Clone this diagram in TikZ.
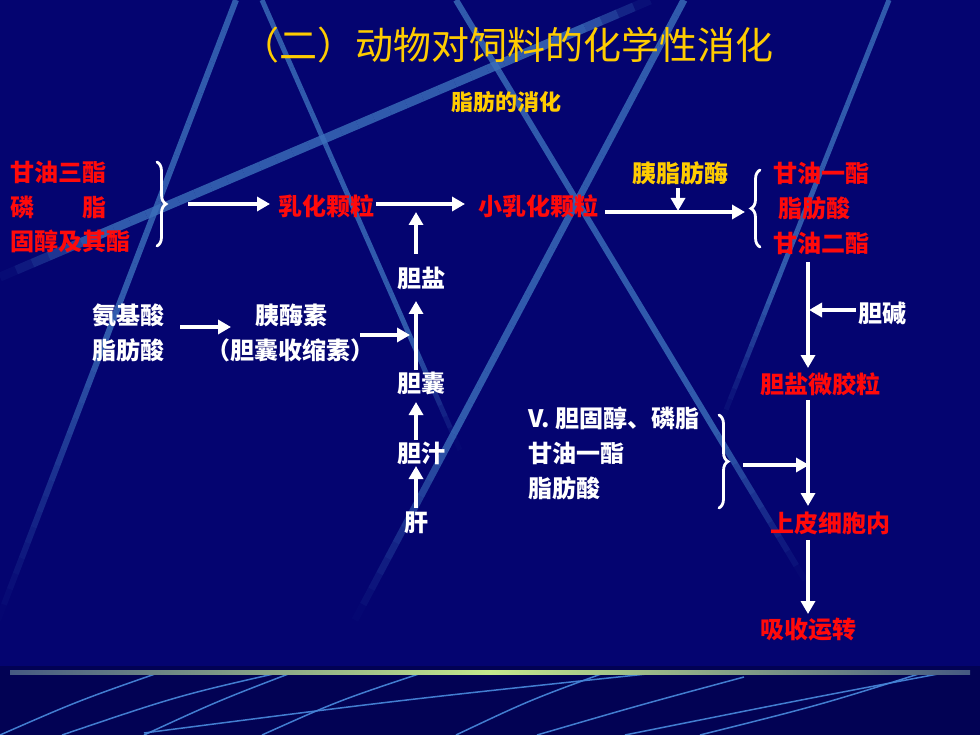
\documentclass[tikz,border=0pt]{standalone}
\usepackage{fontspec}
\setmainfont{Noto Sans CJK SC}
\usetikzlibrary{arrows.meta,decorations.pathreplacing,calc}
\definecolor{bgnavy}{RGB}{4,4,112}
\definecolor{bgdark}{RGB}{2,2,84}
\definecolor{streak}{RGB}{60,112,188}
\definecolor{lowstreak}{RGB}{70,132,215}
\definecolor{txtred}{RGB}{255,10,10}
\definecolor{txtyel}{RGB}{255,204,0}
\definecolor{glowgreen}{RGB}{196,232,140}
\definecolor{glowend}{RGB}{70,90,130}
\tikzset{
  lab/.style={inner sep=0pt, anchor=west, font=\bfseries\fontsize{24}{28}\selectfont},
  rlab/.style={lab, text=txtred},
  wlab/.style={lab, text=white},
  ylab/.style={lab, text=txtyel},
  arr/.style={draw=white, line width=3.5pt, -{Triangle[length=13pt,width=14pt]}},
  bracebig/.style={draw=white, line width=2.8pt, line cap=round, decorate, decoration={brace, amplitude=9pt, aspect=0.5}},
  lowline/.style={draw=lowstreak, opacity=0.95, line width=1.5pt},
}
% #1 start, #2 end, #3 width, #4 fade-in end fraction, #5 fade-out start fraction
\newcommand\bgstreak[5]{%
  \foreach \i in {0,...,39}{%
    \pgfmathsetmacro\ta{\i/40}%
    \pgfmathsetmacro\tb{(\i+1)/40}%
    \pgfmathsetmacro\tm{(\i+0.5)/40}%
    \pgfmathsetmacro\op{0.8*min(1,\tm/#4)*min(1,(1-\tm)/(1-#5))}%
    \draw[draw=streak, line width=#3, opacity=\op] ($(#1)!\ta!(#2)$) -- ($(#1)!\tb!(#2)$);
  }%
}
\begin{document}
\begin{tikzpicture}[x=1pt,y=-1pt]
\useasboundingbox (0,0) rectangle (980,735);
% background
\fill[bgnavy] (0,0) rectangle (980,666);
\fill[bgdark] (0,666) rectangle (980,735);
\begin{scope}
\clip (0,0) rectangle (980,666);
\bgstreak{236,0}{-2,620}{6pt}{0.01}{0.55}
\bgstreak{0,277}{650,0}{9pt}{0.15}{0.9}
\bgstreak{262,0}{460,450}{5pt}{0.01}{0.75}
\bgstreak{456,0}{805,580}{6pt}{0.01}{0.75}
\bgstreak{684,0}{355,620}{7pt}{0.01}{0.7}
\bgstreak{889,0}{722,420}{5pt}{0.01}{0.7}
\end{scope}
% bottom glow line
\shade[left color=glowend, right color=glowend, middle color=glowgreen] (10,670) rectangle (970,674);
% bottom curves
\begin{scope}
\clip (0,675) rectangle (980,735);
\draw[lowline] (0,735) .. controls (80,700) .. (181,665);
\draw[lowline] (62,735) .. controls (180,695) .. (300,668);
\draw[lowline] (144,735) .. controls (220,700) .. (312,665);
\draw[lowline] (144,733) .. controls (400,700) .. (675,671);
\draw[lowline] (262,735) .. controls (340,700) .. (437,668);
\draw[lowline] (456,735) .. controls (530,700) .. (612,670);
\draw[lowline] (537,735) .. controls (640,705) .. (744,677);
\draw[lowline] (625,735) .. controls (800,700) .. (975,667);
\draw[lowline] (700,735) .. controls (820,705) .. (925,672);
\end{scope}
% titles
\node[inner sep=0pt, text=txtyel, font=\fontsize{38}{44}\selectfont] (title) at (507,45) {（二）动物对饲料的化学性消化};
\node[inner sep=0pt, text=txtyel, font=\bfseries\fontsize{22}{26}\selectfont] (sub) at (506,102) {脂肪的消化};
% left group
\node[rlab] (tg) at (10,172) {甘油三酯};
\node[rlab] (pl) at (10,207) {磷\hspace{2em}脂};
\node[rlab] (gc) at (10,241) {固醇及其酯};
\draw[bracebig] (157,162) -- (157,246);
\coordinate (a1s) at (188,204);
\node[rlab] (emul) at (278,206) {乳化颗粒};
\draw[arr] (a1s) -- (emul.west |- a1s) [shorten >=8pt];
\node[rlab] (semul) at (478,206) {小乳化颗粒};
\coordinate (a2s) at (376,204);
\coordinate (a2e) at (465,204);
\draw[arr] (a2s) -- (a2e);
% bile column
\node[wlab, anchor=center] (bs) at (421,278) {胆盐};
\coordinate (bsT) at (416,254);
\coordinate (bsH) at (416,212);
\draw[arr] (bsT) -- (bsH);
\node[wlab, anchor=center] (gb) at (421,383) {胆囊};
\coordinate (gbT) at (416,370);
\coordinate (gbH) at (416,301);
\draw[arr] (gbT) -- (gbH);
\node[wlab, anchor=center] (bile) at (421,453) {胆汁};
\coordinate (bileT) at (416,440);
\coordinate (bileH) at (416,402);
\draw[arr] (bileT) -- (bileH);
\node[wlab, anchor=center] (liver) at (416,523) {肝};
\coordinate (livT) at (416,508);
\coordinate (livH) at (416,466);
\draw[arr] (livT) -- (livH);
% amino acids
\node[wlab] (aa) at (92,315) {氨基酸};
\node[wlab] (fa3) at (92,350) {脂肪酸};
\coordinate (a4s) at (180,327);
\coordinate (a4e) at (231,327);
\draw[arr] (a4s) -- (a4e);
\node[wlab] (panc) at (255,315) {胰酶素};
\node[wlab] (cck) at (206,350) {（胆囊收缩素）};
\coordinate (a5s) at (360,335);
\coordinate (a5e) at (410,335);
\draw[arr] (a5s) -- (a5e);
% right top
\node[ylab] (lip) at (632,173) {胰脂肪酶};
\coordinate (lipT) at (678,188);
\coordinate (lipH) at (678,211);
\draw[arr] (lipT) -- (lipH);
\coordinate (a3s) at (605,212);
\coordinate (a3e) at (745,212);
\draw[arr] (a3s) -- (a3e);
\draw[bracebig] (760,247) -- (760,170);
\node[rlab] (mg) at (773,173) {甘油一酯};
\node[rlab] (fa) at (778,208) {脂肪酸};
\node[rlab] (dg) at (773,243) {甘油二酯};
\coordinate (v1s) at (808,262);
\coordinate (v1e) at (808,368);
\draw[arr] (v1s) -- (v1e);
\node[wlab] (chol) at (858,313) {胆碱};
\coordinate (cholT) at (856,310);
\coordinate (cholH) at (809,310);
\draw[arr] (cholT) -- (cholH);
\node[rlab] (mic) at (760,384) {胆盐微胶粒};
\coordinate (v2s) at (808,400);
\coordinate (v2e) at (808,506);
\draw[arr] (v2s) -- (v2e);
% lower middle group
\node[wlab] (chl) at (528,418) {V. 胆固醇、磷脂};
\node[wlab] (mg2) at (528,453) {甘油一酯};
\node[wlab] (fa2) at (528,488) {脂肪酸};
\draw[bracebig] (719,415) -- (719,508);
\coordinate (a6s) at (743,465);
\coordinate (a6e) at (809,465);
\draw[arr] (a6s) -- (a6e);
\node[rlab] (epi) at (770,523) {上皮细胞内};
\coordinate (v3s) at (808,540);
\coordinate (v3e) at (808,614);
\draw[arr] (v3s) -- (v3e);
\node[rlab] (absn) at (760,630) {吸收运转};
\end{tikzpicture}
\end{document}
